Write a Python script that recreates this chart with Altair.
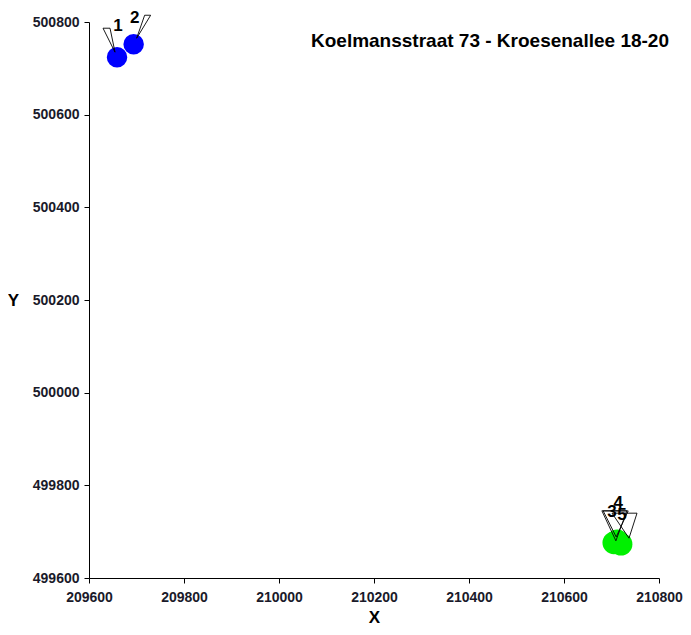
import altair as alt
import pandas as pd

# data
ids = ["1", "2", "3", "4", "5"]
xs = [209659, 209694, 210705, 210712, 210720]
ys = [500724, 500752, 499676, 499680, 499673]
groups = ["blue", "blue", "green", "green", "green"]

x_ticks = [209600, 209800, 210000, 210200, 210400, 210600, 210800]
y_ticks = [499600, 499800, 500000, 500200, 500400, 500600, 500800]

title_text = "Koelmansstraat 73 - Kroesenallee 18-20"

df = pd.DataFrame({"id": ids, "x": xs, "y": ys, "grp": groups})

FONT = "Liberation Sans"

x_enc = alt.X("x:Q", scale=alt.Scale(domain=[209600, 210800], nice=False, zero=False),
              axis=alt.Axis(values=x_ticks, title="X", format="d", grid=False,
                            domainColor="black", tickColor="black", tickSize=5,
                            labelFont=FONT, labelFontSize=14, labelFontWeight="bold",
                            labelColor="#1a1a2a", labelPadding=7, labelFlush=False,
                            titleFont=FONT, titleFontSize=17, titleFontWeight="bold",
                            titleColor="black", titlePadding=5))
y_enc = alt.Y("y:Q", scale=alt.Scale(domain=[499600, 500800], nice=False, zero=False),
              axis=alt.Axis(values=y_ticks, title="Y", format="d", grid=False,
                            domainColor="black", tickColor="black", tickSize=5,
                            labelFont=FONT, labelFontSize=14, labelFontWeight="bold",
                            labelColor="#1a1a2a", labelPadding=5, labelFlush=False,
                            titleFont=FONT, titleFontSize=17, titleFontWeight="bold",
                            titleColor="black", titleAngle=0, titleX=-76, titleY=278,
                            titleBaseline="middle", titleAlign="center"))

base = alt.Chart(df)

circles = base.mark_circle(opacity=1).encode(
    x=x_enc, y=y_enc,
    size=alt.Size("grp:N", scale=alt.Scale(domain=["blue", "green"], range=[420, 520]),
                  legend=None),
    color=alt.Color("grp:N", scale=alt.Scale(domain=["blue", "green"],
                                             range=["#0000FF", "#00F000"]), legend=None),
)

# callout triangle shapes (pixel units with size=4)
tri_paths = [
    "M -14 -29 L -7 -29 L -2 -5 Z",
    "M 11 -29 L 17 -29 L 3 -6 Z",
    "M -12 -32 L 13 -32 L 2 -2 Z",
    "M -14 -30 L 11 -30 L -1 -4 Z",
    "M -9 -31 L 16 -31 L 8 -6 Z",
]
triangles = base.mark_point(size=4, filled=False, strokeWidth=0.9, opacity=1).encode(
    x="x:Q", y="y:Q",
    shape=alt.Shape("id:N", scale=alt.Scale(domain=ids, range=tri_paths), legend=None),
    color=alt.value("black"),
)

label_offsets = {"1": (1, -31), "2": (1, -26), "3": (-2, -31), "4": (1, -38), "5": (1, -29)}
labels = []
for i in ids:
    dx, dy = label_offsets[i]
    labels.append(
        base.transform_filter(alt.datum.id == i).mark_text(
            font=FONT, fontSize=17, fontWeight="bold", color="black",
            dx=dx, dy=dy, baseline="middle", align="center"
        ).encode(x="x:Q", y="y:Q", text="id:N")
    )

chart = alt.layer(circles, triangles, *labels).properties(
    width=570, height=556,
    title=alt.TitleParams(title_text, anchor="end", frame="group", font=FONT,
                          fontSize=19, fontWeight="bold", color="black", dy=46, dx=10),
    padding={"left": 81, "top": 14, "right": 24, "bottom": 49},
    autosize=alt.AutoSizeParams(type="none"),
).configure_view(stroke=None).configure_axis(domainWidth=1, tickWidth=1)

chart.save("out.html", embed_options={"renderer": "svg", "actions": False})
